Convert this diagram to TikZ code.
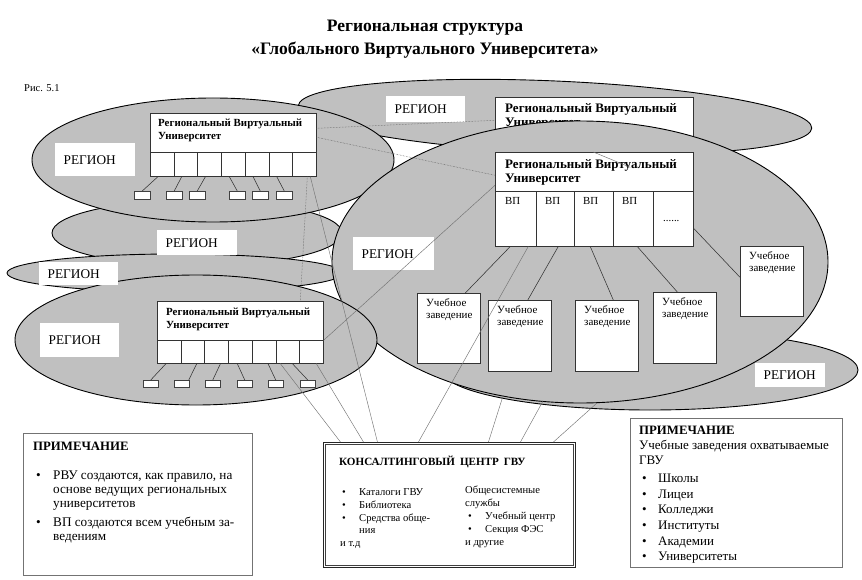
\documentclass[tikz,border=0pt]{standalone}
\usepackage{fontspec}
\setmainfont{Liberation Serif}
\definecolor{regfill}{RGB}{192,192,192}
\begin{document}
\begin{tikzpicture}[x=1pt,y=-1pt,
 region/.style={draw=black, fill=regfill, line width=0.9pt},
 regbox/.style={fill=white, inner sep=0pt, anchor=north west},
 regtxt/.style={anchor=west, inner sep=0pt, font=\fontsize{13.3}{15}\selectfont},
 wbox/.style={draw=black!80, fill=white, line width=0.6pt, inner sep=0pt, anchor=north west},
 cell/.style={draw=black!80, fill=white, line width=0.5pt, inner sep=0pt, anchor=north west},
 sbox/.style={draw=black!75, fill=white, line width=0.5pt, inner sep=0pt, anchor=north west},
 notebox/.style={draw=black!55, fill=white, line width=0.7pt, inner sep=0pt, anchor=north west},
 txt/.style={anchor=base west, inner sep=0pt},
 hdrS/.style={txt, font=\bfseries\fontsize{10.9}{12}\selectfont},
 hdrL/.style={txt, font=\bfseries\fontsize{13}{15}\selectfont},
 uzt/.style={txt, font=\fontsize{11}{12}\selectfont},
 cct/.style={txt, font=\fontsize{10.6}{12}\selectfont},
 n1t/.style={txt, font=\fontsize{13.2}{15}\selectfont},
 n2t/.style={txt, font=\fontsize{13}{15}\selectfont},
 tie/.style={draw=black!80, line width=0.55pt},
 cline/.style={draw=black!55, line width=0.45pt},
 dline/.style={draw=black!65, line width=0.5pt, densely dotted},
]
\useasboundingbox (0,0) rectangle (862,580);

% ---------- title ----------
\node[anchor=base, inner sep=0pt, font=\bfseries\fontsize{17.5}{20}\selectfont] (t1) at (425,32) {Региональная структура};
\node[anchor=base, inner sep=0pt, font=\bfseries\fontsize{17.5}{20}\selectfont] (t2) at (425,55) {«Глобального Виртуального Университета»};
\node[txt, font=\fontsize{10.5}{12}\selectfont] (fig) at (24,92) {Рис. 5.1};

% ---------- E1 (back, top right) ----------
\draw[region, rotate around={-2.5:(555,117)}] (555,117) ellipse [x radius=257pt, y radius=36pt];
\node[wbox, minimum width=198pt, minimum height=93pt] (rvub) at (495,97) {};
\node[hdrL] (rvubt1) at (505,113) {Региональный Виртуальный};
\node[hdrL] (rvubt2) at (505,127) {Университет};

% ---------- E3, E4, E2 ----------
\draw[region] (197,233) ellipse [x radius=145pt, y radius=33pt];
\draw[region] (175,273) ellipse [x radius=168pt, y radius=19pt];
\draw[region] (213,160) ellipse [x radius=181pt, y radius=62pt];

% ---------- RVU 1 (top left) ----------
\node[wbox, minimum width=166pt, minimum height=63pt] (rvua) at (150,113) {};
\node[hdrS] (rvuat1) at (158,127) {Региональный Виртуальный};
\node[hdrS] (rvuat2) at (158,140) {Университет};
\foreach \i in {1,...,7}
  \node[cell, minimum width=23.71pt, minimum height=24pt] (a\i) at ({150+(\i-1)*23.71},152) {};
\foreach \k/\x in {1/134,2/166,3/189,4/229,5/252,6/276}
  \node[sbox, minimum width=16pt, minimum height=8pt] (as\k) at (\x,191) {};
\foreach \k in {1,...,6}
  \draw[tie] ([xshift=-4pt]a\k.south) -- (as\k.north);

% ---------- E7, E6 ----------
\draw[region] (650,370) ellipse [x radius=208pt, y radius=40pt];
\draw[region] (580,262) ellipse [x radius=248pt, y radius=141pt];

% ---------- RVU 2 (main) ----------
\node[wbox, minimum width=198pt, minimum height=94pt] (rvuc) at (495,152) {};
\node[hdrL] (rvuct1) at (505,169) {Региональный Виртуальный};
\node[hdrL] (rvuct2) at (505,183) {Университет};
\foreach \k/\x/\w in {1/495/41,2/536/38,3/574/39,4/613/40,5/653/40}
  \node[cell, minimum width=\w pt, minimum height=55pt] (c\k) at (\x,191) {};
\foreach \k/\x in {1/505,2/545,3/583,4/622}
  \node[txt, font=\fontsize{10.8}{12}\selectfont] (vp\k) at (\x,205) {ВП};
\node[txt, font=\fontsize{10.8}{12}\selectfont] (dots) at (663,222) {......};

% Uchebnye zavedeniya
\foreach \k/\x/\y/\h in {1/417/293/70,2/488/300/71,3/575/300/71,4/653/292/71,5/740/246/70}{
  \node[wbox, minimum width=63pt, minimum height=\h pt] (u\k) at (\x,\y) {};
  \node[uzt] (u\k a) at (\x+9,\y+13) {Учебное};
  \node[uzt] (u\k b) at (\x+9,\y+25.5) {заведение};
}
\draw[tie] ([xshift=-5.5pt]c1.south) -- ([xshift=16.5pt]u1.north);
\draw[tie] ([xshift=3pt]c2.south) -- ([xshift=8pt]u2.north);
\draw[tie] ([xshift=-3.5pt]c3.south) -- ([xshift=6.5pt]u3.north);
\draw[tie] ([xshift=4pt]c4.south) -- ([xshift=-7.5pt]u4.north);
\draw[tie] ([yshift=-29pt]rvuc.east) -- ([yshift=4pt]u5.west);

% ---------- E5 + RVU 3 ----------
\draw[region] (196,340) ellipse [x radius=181pt, y radius=65pt];
\node[wbox, minimum width=166pt, minimum height=62pt] (rvud) at (157,301) {};
\node[hdrS] (rvudt1) at (166,315) {Региональный Виртуальный};
\node[hdrS] (rvudt2) at (166,328) {Университет};
\foreach \i in {1,...,7}
  \node[cell, minimum width=23.71pt, minimum height=23pt] (d\i) at ({157+(\i-1)*23.71},340) {};
\foreach \k/\x in {1/143,2/174,3/205,4/237,5/268,6/300}
  \node[sbox, minimum width=15pt, minimum height=7pt] (ds\k) at (\x,380) {};
\foreach \k/\ta/\tb in {1/-3/0,2/4/7,3/4/0,4/-3/0,5/4/0,6/4.6/0}
  \draw[tie] ([xshift=\ta pt]d\k.south) -- ([xshift=\tb pt]ds\k.north);

% ---------- region labels ----------
\foreach \n/\x/\y/\w/\h in {L1/55/143/80/33, L2/386/96/79/26, L3/157/230/80/25, L4/39/262/79/23, L5/40/323/79/34, L6/353/237/81/33, L7/755/363/70/24}{
  \node[regbox, minimum width=\w pt, minimum height=\h pt] (\n) at (\x,\y) {};
  \node[regtxt] (\n t) at ([xshift=8.5pt]\n.west) {РЕГИОН};
}

% ---------- consulting centre ----------
\node[draw=black!85, line width=0.9pt, fill=white, inner sep=0pt, anchor=north west, minimum width=252pt, minimum height=125pt] (cc) at (323,442) {};
\draw[black!75, line width=0.5pt] ([xshift=2.6pt,yshift=-2.6pt]cc.north west) rectangle ([xshift=-2.6pt,yshift=2.6pt]cc.south east);
\node[txt, font=\bfseries\fontsize{11.1}{12}\selectfont] (cct0) at (339,465) {КОНСАЛТИНГОВЫЙ\hspace{5pt}ЦЕНТР\hspace{5pt}ГВУ};
\foreach \k/\y in {1/495,2/508,3/521}
  \node[cct] (ccb\k) at (342,\y) {•};
\node[cct] (cc1) at (359,495) {Каталоги ГВУ};
\node[cct] (cc2) at (359,508) {Библиотека};
\node[cct] (cc3) at (359,521) {Средства обще-};
\node[cct] (cc4) at (359,533) {ния};
\node[cct] (cc5) at (340,546) {и т.д};
\node[cct] (cc6) at (465,493) {Общесистемные};
\node[cct] (cc7) at (465,506) {службы};
\node[cct] (ccb4) at (468,519) {•};
\node[cct] (cc8) at (485,519) {Учебный центр};
\node[cct] (ccb5) at (468,532) {•};
\node[cct] (cc9) at (485,532) {Секция ФЭС};
\node[cct] (cc10) at (465,545) {и другие};

% ---------- connectors ----------
\coordinate (e6a) at (503,396);
\coordinate (e6b) at (543,401);
\coordinate (e6c) at (597,403);
\draw[dline] ([yshift=16.5pt]rvua.east) -- ([yshift=23.5pt]rvub.west);
\draw[dline] ([yshift=7.5pt]rvua.east) -- ([yshift=24pt]rvuc.west);
\draw[dline] ([xshift=74pt]rvua.south) -- ([xshift=60pt]rvud.north);
\draw[cline] ([xshift=77pt]rvua.south) -- ([xshift=-72pt]cc.north);
\draw[cline] ([xshift=76pt]rvud.south) -- ([xshift=-86pt]cc.north);
\draw[cline] ([xshift=40pt]rvud.south) -- ([xshift=-109pt]cc.north);
\draw[cline] ([xshift=-1pt]rvuc.north) -- ([xshift=36pt,yshift=-23.5pt]rvub.center);
\draw[cline] ([yshift=14pt]rvuc.west) -- ([yshift=-8pt]rvud.east);
\draw[cline] ([xshift=12.5pt]c1.south) -- ([xshift=-31pt]cc.north);
\draw[cline] (e6a) -- ([xshift=39pt]cc.north);
\draw[cline] (e6b) -- ([xshift=71pt]cc.north);
\draw[cline] (e6c) -- ([xshift=104pt]cc.north);

% ---------- notes ----------
\node[notebox, minimum width=229pt, minimum height=142pt] (n1) at (23,433) {};
\node[txt, font=\bfseries\fontsize{12.8}{14}\selectfont] (n1h) at (33,450) {ПРИМЕЧАНИЕ};
\node[n1t] (n1b1) at (36,479) {•};
\node[n1t] (n1b2) at (36,526) {•};
\node[n1t] (n1l1) at (53,479) {РВУ создаются, как правило, на};
\node[n1t] (n1l2) at (53,493) {основе ведущих региональных};
\node[n1t] (n1l3) at (53,507) {университетов};
\node[n1t] (n1l4) at (53,526) {ВП создаются всем учебным за-};
\node[n1t] (n1l5) at (53,540) {ведениям};

\node[notebox, minimum width=212pt, minimum height=149pt] (n2) at (630,418) {};
\node[txt, font=\bfseries\fontsize{12.8}{14}\selectfont] (n2h) at (639,434) {ПРИМЕЧАНИЕ};
\node[n2t] (n2a) at (639,449) {Учебные заведения охватываемые};
\node[n2t] (n2b) at (639,464) {ГВУ};
\foreach \k/\y/\t in {1/482/Школы,2/498/Лицеи,3/513/Колледжи,4/529/Институты,5/545/Академии,6/560/Университеты}{
  \node[n2t] (n2d\k) at (642,\y) {•};
  \node[n2t] (n2i\k) at (658,\y) {\t};
}
\end{tikzpicture}
\end{document}
